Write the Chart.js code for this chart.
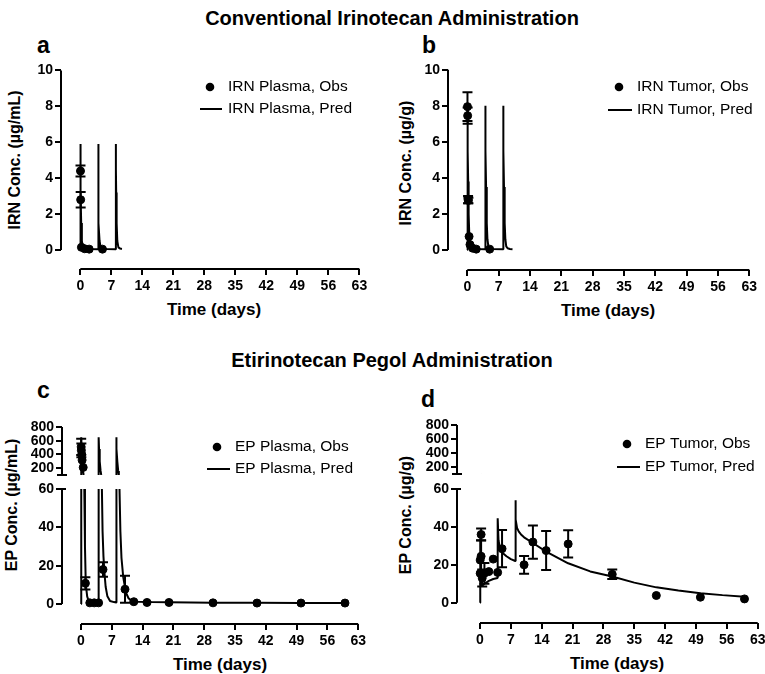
<!DOCTYPE html>
<html lang="en">
<head>
<meta charset="UTF-8">
<title>Irinotecan vs Etirinotecan Pegol PK</title>
<style>
  body { margin: 0; background: #fff; font-family: "Liberation Sans", Arial, Helvetica, sans-serif; }
  #page { position: relative; width: 765px; height: 674px; overflow: hidden; background: #fff; }
  canvas { position: absolute; }
  .txt { position: absolute; white-space: nowrap; color: #000; font-weight: bold; line-height: 1; }
  .head { font-size: 20px; transform: translateX(-50%); }
  .letter { font-size: 23px; }
  .xt { font-size: 17px; transform: translate(-50%, -50%); }
  .yt { font-size: 16px; transform: translate(-50%, -50%) rotate(-90deg); }
</style>
</head>
<body>
<div id="page">
  <div class="txt head" style="left:392px; top:8px">Conventional Irinotecan Administration</div>
  <div class="txt head" style="left:392px; top:350px">Etirinotecan Pegol Administration</div>

  <div class="txt letter" style="left:37px; top:34px">a</div>
  <div class="txt letter" style="left:422px; top:34px">b</div>
  <div class="txt letter" style="left:37px; top:379px">c</div>
  <div class="txt letter" style="left:421px; top:388px">d</div>

  <div class="txt yt" style="left:15px; top:160px">IRN Conc. (µg/mL)</div>
  <div class="txt yt" style="left:406px; top:163px">IRN Conc. (µg/g)</div>
  <div class="txt yt" style="left:12px; top:505px">EP Conc. (µg/mL)</div>
  <div class="txt yt" style="left:406px; top:515px">EP Conc. (µg/g)</div>

  <div class="txt xt" style="left:214px; top:309px">Time (days)</div>
  <div class="txt xt" style="left:608px; top:310px">Time (days)</div>
  <div class="txt xt" style="left:220px; top:664px">Time (days)</div>
  <div class="txt xt" style="left:617px; top:663px">Time (days)</div>
</div>

<script src="https://cdn.jsdelivr.net/npm/chart.js@4.4.1/dist/chart.umd.min.js"></script>
<script>
// ---- axis ticks ----
const dayTicks = [0, 7, 14, 21, 28, 35, 42, 49, 56, 63];
const irnTicks = [0, 2, 4, 6, 8, 10];
const epLowTicks = [0, 20, 40, 60];
const epHighTicks = [200, 400, 600, 800];

// ---- a: IRN plasma ----
const irnPlasmaT = [0.04, 0.08, 0.25, 1, 2, 5];
const irnPlasmaObs = [4.4, 2.8, 0.15, 0.07, 0.05, 0.05];
const irnPlasmaSd = [0.3, 0.43, 0, 0, 0, 0];
const irnPlasmaPredT = [0, 0.01, 0.05, 0.1, 0.2, 0.35, 0.6, 1, 2, 4,
  4.01, 4.05, 4.1, 4.2, 4.35, 4.6, 5, 6, 8,
  8.01, 8.05, 8.1, 8.2, 8.35, 8.6, 9, 9.4];
const irnPlasmaPred = [0, 5.9, 4.5, 3.2, 1.5, 0.5, 0.15, 0.08, 0.06, 0.05,
  5.9, 4.5, 3.2, 1.5, 0.5, 0.15, 0.08, 0.06, 0.05,
  5.9, 4.5, 3.2, 1.5, 0.5, 0.15, 0.08, 0.06];

// ---- b: IRN tumor ----
const irnTumorT = [0.04, 0.08, 0.17, 0.25, 0.4, 0.6, 1.2, 2, 5];
const irnTumorObs = [7.95, 7.45, 2.8, 2.75, 0.75, 0.3, 0.1, 0.05, 0.05];
const irnTumorSd = [0.8, 0.45, 0.2, 0.15, 0, 0, 0, 0, 0];
const irnTumorPredT = [0, 0.01, 0.05, 0.1, 0.15, 0.2, 0.3, 0.45, 0.6, 0.8, 1.2, 2, 4,
  4.01, 4.1, 4.2, 4.35, 4.5, 4.7, 5, 5.5, 8,
  8.01, 8.1, 8.2, 8.35, 8.5, 8.7, 9, 9.5, 10.1];
const irnTumorPred = [0, 8, 8, 7.6, 5.5, 3.8, 2.0, 0.8, 0.35, 0.2, 0.1, 0.06, 0.05,
  8, 5.5, 3.5, 1.5, 0.6, 0.2, 0.1, 0.06, 0.05,
  8, 5.5, 3.5, 1.5, 0.6, 0.2, 0.1, 0.06, 0.05];

// ---- c: EP plasma ----
const epPlasmaT = [0.04, 0.08, 0.17, 0.25, 0.5, 1, 2, 3, 4, 5, 10, 12, 15, 20, 30, 40, 50, 60];
const epPlasmaObs = [510, 460, 400, 317, 211, 10.8, 0.6, 0.6, 0.6, 18, 7.7, 1.2, 0.8, 0.8, 0.6, 0.5, 0.5, 0.5];
const epPlasmaSd = [120, 100, 0, 0, 0, 3.2, 0, 0, 0, 3.8, 7, 0, 0, 0, 0, 0, 0, 0];
const epPlasmaPredT = [0, 0.01, 0.1, 0.25, 0.45, 0.6, 0.75, 0.9, 1.05, 1.2, 1.4, 1.7, 2.2, 3, 4,
  4.01, 4.1, 4.25, 4.45, 4.6, 4.75, 4.9, 5.1, 5.3, 5.6, 6, 6.6, 7.5, 8,
  8.01, 8.1, 8.25, 8.45, 8.6, 8.75, 8.95, 9.2, 9.6, 10.2, 10.8, 11.5, 13, 16, 20, 30, 40, 50, 60];
const epPlasmaPred = [0, 650, 480, 300, 160, 100, 60, 30, 14, 8, 4, 1.8, 1.0, 0.8, 0.7,
  650, 480, 300, 160, 100, 60, 38, 25, 17, 9, 4, 1.6, 1.0, 0.8,
  650, 480, 300, 160, 100, 60, 38, 24, 14, 6, 3, 1.6, 1.2, 1.0, 0.9, 0.7, 0.6, 0.5, 0.5];

// ---- d: EP tumor ----
const epTumorT = [0.04, 0.04, 0.25, 0.25, 0.5, 1, 2, 3, 4, 5, 10, 12, 15, 20, 30, 40, 50, 60];
const epTumorObs = [15.5, 22.5, 36, 24.5, 13, 15.5, 16.4, 23, 16, 28.5, 20, 32, 27.5, 31, 15, 3.8, 2.9, 2.0];
const epTumorSd = [0, 0, 3.2, 8.5, 4.5, 5.5, 0, 0, 0, 9.8, 4.7, 8.8, 10.3, 7.2, 2.5, 0, 0, 0];
const epTumorPredT = [0, 0.01, 0.1, 0.25, 0.5, 0.75, 1, 2, 3, 4,
  4.01, 4.2, 4.5, 5, 6, 7, 8,
  8.01, 8.15, 8.4, 8.8, 9.3, 10, 12, 15, 20, 25, 30, 35, 40, 45, 50, 55, 60];
const epTumorPred = [0, 34, 22, 13, 9, 9.5, 10, 11.5, 12.5, 13,
  44.5, 33, 29, 26.5, 24.5, 23, 22,
  54, 44, 39.5, 37.5, 36, 34.5, 31.5, 27, 20.8, 16.5, 13.8, 10.6, 8.1, 6.4, 5.0, 4.0, 3.2];

const FONT = '"Liberation Sans", Arial, Helvetica, sans-serif';
const page = document.getElementById('page');

function pts(t, v) { return t.map((x, i) => ({ x: x, y: v[i] })); }

function obsSet(t, v, sd) {
  return { data: pts(t, v), errors: sd, showLine: false, pointRadius: 4, pointBorderWidth: 1,
           pointBackgroundColor: '#000', pointBorderColor: '#000', clip: 0 };
}
function predSet(t, v) {
  return { data: pts(t, v), showLine: true, borderColor: '#000', borderWidth: 2,
           borderJoinStyle: 'bevel', pointRadius: 0, tension: 0, fill: false, clip: 0 };
}

// error bars, hand-drawn axis lines, break marks and the legend
const panelDecor = {
  id: 'panelDecor',
  beforeDatasetsDraw(chart, args, opts) {
    const ctx = chart.ctx, a = chart.chartArea;
    const xs = chart.scales.x, ys = chart.scales.y;
    ctx.save();
    ctx.beginPath();
    ctx.rect(a.left, a.top, a.right - a.left, a.bottom - a.top);
    ctx.clip();
    ctx.strokeStyle = '#000';
    ctx.lineWidth = 2;
    chart.data.datasets.forEach(ds => {
      if (!ds.errors) return;
      ds.data.forEach((p, i) => {
        const e = ds.errors[i];
        if (!e) return;
        const px = xs.getPixelForValue(p.x);
        const hi = ys.getPixelForValue(p.y + e), lo = ys.getPixelForValue(p.y - e);
        ctx.beginPath();
        ctx.moveTo(px, hi); ctx.lineTo(px, lo);
        ctx.moveTo(px - 5, hi); ctx.lineTo(px + 5, hi);
        ctx.moveTo(px - 5, lo); ctx.lineTo(px + 5, lo);
        ctx.stroke();
      });
    });
    ctx.restore();
  },
  afterDraw(chart, args, opts) {
    const ctx = chart.ctx, a = chart.chartArea;
    const xs = chart.scales.x, ys = chart.scales.y;
    ctx.save();
    ctx.strokeStyle = '#000';
    ctx.lineWidth = 2;
    const y0 = ys.getPixelForValue(opts.yLine[0]), y1 = ys.getPixelForValue(opts.yLine[1]);
    ctx.beginPath();
    ctx.moveTo(a.left, y0); ctx.lineTo(a.left, y1);
    if (opts.showX) {
      ctx.moveTo(xs.getPixelForValue(dayTicks[0]), a.bottom);
      ctx.lineTo(xs.getPixelForValue(dayTicks[dayTicks.length - 1]), a.bottom);
    }
    if (opts.breakBelow) { ctx.moveTo(a.left - 5, y0); ctx.lineTo(a.left + 5, y0); }
    if (opts.breakAbove) { ctx.moveTo(a.left, y1); ctx.lineTo(a.left + 4, y1); }
    ctx.stroke();

    const lg = opts.legend;
    if (lg) {
      const ox = opts.offset[0], oy = opts.offset[1];
      ctx.fillStyle = '#000';
      ctx.beginPath();
      ctx.arc(lg.marker[0] - ox, lg.marker[1] - oy, 4.3, 0, Math.PI * 2);
      ctx.fill();
      ctx.beginPath();
      ctx.moveTo(lg.line[0] - ox, lg.line[2] - oy);
      ctx.lineTo(lg.line[1] - ox, lg.line[2] - oy);
      ctx.stroke();
      ctx.font = '15.5px ' + FONT;
      ctx.textBaseline = 'middle';
      ctx.textAlign = 'left';
      ctx.fillText(lg.labels[0], lg.textX - ox, lg.marker[1] - oy);
      ctx.fillText(lg.labels[1], lg.textX - ox, lg.line[2] - oy);
    }
    ctx.restore();
  }
};

const tickFont = { family: FONT, size: 14, weight: 'bold' };
const tickGrid = { drawOnChartArea: false, drawTicks: true, tickLength: 6, color: '#000', lineWidth: 2 };

function makePanel(cfg) {
  const [cl, ct, cw, ch] = cfg.box;
  const [L, T, R, B] = cfg.area;
  const canvas = document.createElement('canvas');
  canvas.width = cw; canvas.height = ch;
  canvas.style.left = cl + 'px'; canvas.style.top = ct + 'px';
  canvas.style.width = cw + 'px'; canvas.style.height = ch + 'px';
  page.appendChild(canvas);

  new Chart(canvas, {
    type: 'scatter',
    data: { datasets: cfg.datasets },
    options: {
      responsive: false,
      animation: false,
      devicePixelRatio: 1,
      events: [],
      layout: { padding: { left: 0, top: T - ct, right: cl + cw - R, bottom: cfg.showX ? 0 : ct + ch - B } },
      plugins: {
        legend: { display: false },
        tooltip: { enabled: false },
        panelDecor: {
          yLine: cfg.yLine, showX: cfg.showX, breakBelow: cfg.breakBelow, breakAbove: cfg.breakAbove,
          legend: cfg.legend, offset: [cl, ct]
        }
      },
      scales: {
        x: {
          type: 'linear', min: cfg.xRange[0], max: cfg.xRange[1], display: cfg.showX,
          afterBuildTicks: s => { s.ticks = dayTicks.map(v => ({ value: v })); },
          afterFit: s => { s.height = cfg.showX ? ct + ch - B : 0; },
          grid: tickGrid,
          border: { display: false },
          ticks: { color: '#000', font: tickFont, padding: 3, maxRotation: 0, autoSkip: false }
        },
        y: {
          type: 'linear', min: cfg.yRange[0], max: cfg.yRange[1],
          afterBuildTicks: s => { s.ticks = cfg.yTicks.map(v => ({ value: v })); },
          afterFit: s => { s.width = L - cl; },
          grid: tickGrid,
          border: { display: false },
          ticks: { color: '#000', font: tickFont, padding: 2, autoSkip: false }
        }
      }
    },
    plugins: [panelDecor]
  });
}

// a
makePanel({
  box: [0, 56, 375, 245], area: [61, 66, 362, 269],
  xRange: [-4.36, 63.59], yRange: [-1.056, 10.222], yTicks: irnTicks, yLine: [0, 10], showX: true,
  datasets: [predSet(irnPlasmaPredT, irnPlasmaPred), obsSet(irnPlasmaT, irnPlasmaObs, irnPlasmaSd)],
  legend: { marker: [210, 87], line: [200, 222, 109], textX: 228, labels: ['IRN Plasma, Obs', 'IRN Plasma, Pred'] }
});

// b
makePanel({
  box: [385, 56, 385, 245], area: [448, 66, 752, 270],
  xRange: [-4.31, 63.6], yRange: [-1.107, 10.18], yTicks: irnTicks, yLine: [0, 10], showX: true,
  datasets: [predSet(irnTumorPredT, irnTumorPred), obsSet(irnTumorT, irnTumorObs, irnTumorSd)],
  legend: { marker: [619, 87], line: [608, 632, 110], textX: 637, labels: ['IRN Tumor, Obs', 'IRN Tumor, Pred'] }
});

// c, upper segment
makePanel({
  box: [0, 416, 375, 72], area: [62, 427, 361, 475],
  xRange: [-4.32, 63.64], yRange: [100, 800], yTicks: epHighTicks, yLine: [100, 800], showX: false,
  breakBelow: true,
  datasets: [predSet(epPlasmaPredT, epPlasmaPred), obsSet(epPlasmaT, epPlasmaObs, epPlasmaSd)],
  legend: { marker: [217, 447], line: [207, 230, 469], textX: 235, labels: ['EP Plasma, Obs', 'EP Plasma, Pred'] }
});
// c, lower segment
makePanel({
  box: [0, 478, 375, 196], area: [62, 489, 361, 624],
  xRange: [-4.32, 63.64], yRange: [-10.43, 60], yTicks: epLowTicks, yLine: [0, 60], showX: true,
  breakAbove: true,
  datasets: [predSet(epPlasmaPredT, epPlasmaPred), obsSet(epPlasmaT, epPlasmaObs, epPlasmaSd)]
});

// d, upper segment
makePanel({
  box: [385, 414, 390, 73], area: [457, 425, 760, 474],
  xRange: [-5.22, 63.52], yRange: [100, 800], yTicks: epHighTicks, yLine: [100, 800], showX: false,
  breakBelow: true,
  datasets: [predSet(epTumorPredT, epTumorPred), obsSet(epTumorT, epTumorObs, epTumorSd)],
  legend: { marker: [627, 444], line: [617, 640, 467], textX: 645, labels: ['EP Tumor, Obs', 'EP Tumor, Pred'] }
});
// d, lower segment
makePanel({
  box: [385, 478, 390, 196], area: [457, 489, 760, 623],
  xRange: [-5.22, 63.52], yRange: [-10.71, 60], yTicks: epLowTicks, yLine: [0, 60], showX: true,
  breakAbove: true,
  datasets: [predSet(epTumorPredT, epTumorPred), obsSet(epTumorT, epTumorObs, epTumorSd)]
});
</script>
</body>
</html>
